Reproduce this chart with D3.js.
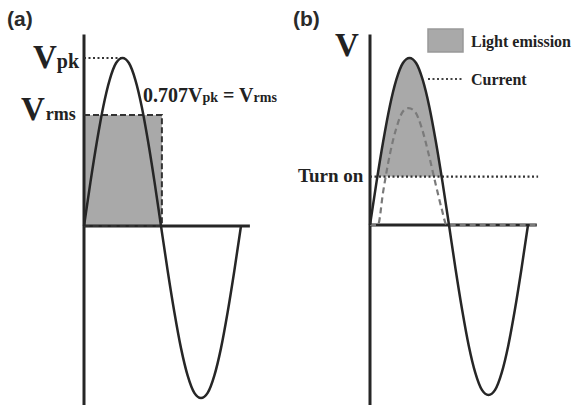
<!DOCTYPE html>
<html>
<head>
<meta charset="utf-8">
<script src="https://cdn.jsdelivr.net/npm/d3@7"></script>
<style>
  body { margin: 0; background: #fff; }
  svg { display: block; }
  .serif { font-family: "Liberation Serif", "DejaVu Serif", serif; font-weight: bold; fill: #222; }
</style>
</head>
<body>
<svg id="chart" width="575" height="405"></svg>
<script>
// waveform: phase (deg) and normalised voltage
const phases = [0, 15, 30, 45, 60, 75, 90, 105, 120, 135, 150, 165, 180,
                195, 210, 225, 240, 255, 270, 285, 300, 315, 330, 345, 360];
const volts = [0, 0.26, 0.5, 0.71, 0.87, 0.97, 1, 0.97, 0.87, 0.71, 0.5, 0.26, 0,
               -0.26, -0.5, -0.71, -0.87, -0.97, -1, -0.97, -0.87, -0.71, -0.5, -0.26, 0];
// LED current in panel (b)
const currentPhases = [0, 18, 30, 45, 60, 75, 88, 102, 118, 134, 150, 163, 175, 380];
const currentVals = [0, 0, 0.2, 0.42, 0.58, 0.68, 0.7, 0.68, 0.58, 0.42, 0.24, 0.1, 0, 0];

const rmsLevel = 0.66;   // Vrms box height in (a)
const rmsEnd = 182;      // right edge of Vrms box (phase)
const turnOn = 0.29;     // turn-on level in (b)
const axisEnd = 380;
const axisTop = 1.14;
const axisBottom = -1.07;

const legendLabels = ["Light emission", "Current"];

const svg = d3.select("#chart");
const wave = phases.map((p, i) => ({p: p, v: volts[i]}));
const current = currentPhases.map((p, i) => ({p: p, v: currentVals[i]}));

const ink = "#262626";
const shade = "#a9a9a9";

const drawPanel = function(g, x, y) {
    // axes
    g.append("line").attr("x1", x(0)).attr("x2", x(0))
        .attr("y1", y(axisTop)).attr("y2", y(axisBottom))
        .attr("stroke", ink).attr("stroke-width", 3);
    g.append("line").attr("x1", x(0)).attr("x2", x(axisEnd))
        .attr("y1", y(0)).attr("y2", y(0))
        .attr("stroke", ink).attr("stroke-width", 3);
}

const waveLine = (x, y) => d3.line().x(d => x(d.p)).y(d => y(d.v)).curve(d3.curveMonotoneX);

// ---------- panel (a) ----------
const xa = d3.scaleLinear().domain([0, 180, 360]).range([84, 161, 241]);
const ya = d3.scaleLinear().domain([-1, 0, 1]).range([398, 226, 58]);
const ga = svg.append("g");

ga.append("rect")
    .attr("x", xa(0)).attr("y", ya(rmsLevel))
    .attr("width", xa(rmsEnd) - xa(0)).attr("height", ya(0) - ya(rmsLevel))
    .attr("fill", shade);

drawPanel(ga, xa, ya);

ga.append("path")
    .attr("d", "M" + xa(0) + "," + ya(rmsLevel) + "H" + xa(rmsEnd) + "V" + ya(0) + "H" + xa(0))
    .attr("fill", "none").attr("stroke", "#333").attr("stroke-width", 2)
    .attr("stroke-dasharray", "6,3");

ga.append("line").attr("x1", xa(0)).attr("x2", xa(90))
    .attr("y1", ya(1)).attr("y2", ya(1))
    .attr("stroke", "#333").attr("stroke-width", 2).attr("stroke-dasharray", "2,2.5");

ga.append("path").datum(wave)
    .attr("d", waveLine(xa, ya))
    .attr("fill", "none").attr("stroke", ink).attr("stroke-width", 2.5);

ga.append("text").attr("x", 7).attr("y", 26)
    .style("font-family", "'Liberation Sans', Arial, sans-serif").style("font-size", "21px")
    .style("font-weight", "bold").attr("fill", "#2a2a2a").text("(a)");

let t = ga.append("text").attr("class", "serif").attr("x", 33).attr("y", 68);
t.append("tspan").style("font-size", "33px").text("V");
t.append("tspan").style("font-size", "20px").text("pk");

t = ga.append("text").attr("class", "serif").attr("x", 21).attr("y", 120);
t.append("tspan").style("font-size", "33px").text("V");
t.append("tspan").style("font-size", "18px").attr("dx", 1).text("rms");

t = ga.append("text").attr("class", "serif").attr("x", 143).attr("y", 102).style("font-size", "20px");
t.append("tspan").text("0.707V");
t.append("tspan").style("font-size", "14px").text("pk");
t.append("tspan").text(" = V");
t.append("tspan").style("font-size", "14px").text("rms");

// ---------- panel (b) ----------
const xb = d3.scaleLinear().domain([0, 180, 360]).range([370, 449, 528]);
const yb = d3.scaleLinear().domain([-1, 0, 1]).range([395, 225, 58]);
const gb = svg.append("g");

svg.append("defs").append("clipPath").attr("id", "above-turn-on")
    .append("rect").attr("x", xb(0)).attr("y", 0)
    .attr("width", xb(180) - xb(0)).attr("height", yb(turnOn));

gb.append("path").datum(wave.filter(d => d.p <= 180))
    .attr("d", d3.area().x(d => xb(d.p)).y0(yb(0)).y1(d => yb(d.v)).curve(d3.curveMonotoneX))
    .attr("fill", shade).attr("clip-path", "url(#above-turn-on)");

drawPanel(gb, xb, yb);

gb.append("path").datum(current)
    .attr("d", waveLine(xb, yb))
    .attr("fill", "none").attr("stroke", "#7a7a7a").attr("stroke-width", 2.2)
    .attr("stroke-dasharray", "6,4");

gb.append("line").attr("x1", xb(0)).attr("x2", xb(383))
    .attr("y1", yb(turnOn)).attr("y2", yb(turnOn))
    .attr("stroke", "#333").attr("stroke-width", 2.2).attr("stroke-dasharray", "2,2.5");

gb.append("path").datum(wave)
    .attr("d", waveLine(xb, yb))
    .attr("fill", "none").attr("stroke", ink).attr("stroke-width", 2.5);

gb.append("text").attr("x", 293).attr("y", 26)
    .style("font-family", "'Liberation Sans', Arial, sans-serif").style("font-size", "21px")
    .style("font-weight", "bold").attr("fill", "#2a2a2a").text("(b)");

gb.append("text").attr("class", "serif").attr("x", 335).attr("y", 56)
    .style("font-size", "33px").text("V");

gb.append("text").attr("class", "serif").attr("x", 298).attr("y", 182)
    .style("font-size", "19px").text("Turn on");

// legend
gb.append("rect").attr("x", 428).attr("y", 29).attr("width", 35).attr("height", 23)
    .attr("fill", shade).attr("stroke", "#999").attr("stroke-width", 1.5);
gb.append("line").attr("x1", 428).attr("x2", 462).attr("y1", 79).attr("y2", 79)
    .attr("stroke", "#444").attr("stroke-width", 2).attr("stroke-dasharray", "2,2.5");
gb.selectAll(".legend-text").data(legendLabels).enter().append("text")
    .attr("class", "serif legend-text")
    .attr("x", 471).attr("y", (d, i) => 47 + i * 38)
    .style("font-size", "16px").text(d => d);
</script>
</body>
</html>
